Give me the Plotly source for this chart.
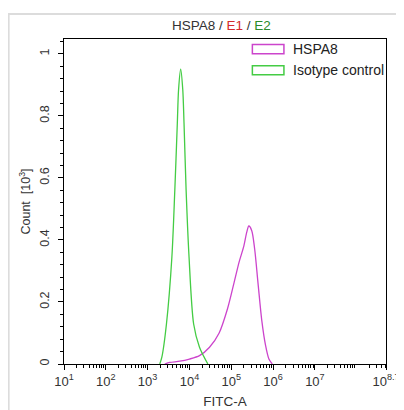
import plotly.graph_objects as go

# ---- data (log10 of FITC-A intensity, count in 10^3) ----
iso_log = [3.29, 3.34, 3.45, 3.58, 3.65, 3.71, 3.74, 3.79, 3.84, 3.87, 3.92, 3.99, 4.10, 4.24, 4.44]
iso_count = [0.0, 0.022, 0.129, 0.345, 0.561, 0.777, 0.885, 0.951, 0.885, 0.777, 0.561, 0.345, 0.129, 0.054, 0.0]

hspa_log = [3.41, 3.53, 3.77, 4.00, 4.24, 4.48, 4.71, 4.91, 5.07, 5.19, 5.30, 5.37, 5.42,
            5.49, 5.56, 5.64, 5.73, 5.82, 5.90, 5.98]
hspa_count = [0.0, 0.005, 0.009, 0.016, 0.027, 0.054, 0.10, 0.178, 0.264, 0.33, 0.38, 0.425, 0.445,
              0.43, 0.37, 0.26, 0.14, 0.06, 0.016, 0.0]

x_tick_exp = [1, 2, 3, 4, 5, 6, 7, 8.7]
x_tick_text = ["10<sup>1</sup>", "10<sup>2</sup>", "10<sup>3</sup>", "10<sup>4</sup>",
               "10<sup>5</sup>", "10<sup>6</sup>", "10<sup>7</sup>", "10<sup>8.7</sup>"]
y_tick_vals = [0, 0.2, 0.4, 0.6, 0.8, 1]
y_tick_text = ["0", "0.2", "0.4", "0.6", "0.8", "1"]

series_names = ["HSPA8", "Isotype control"]
MAGENTA = "#cc44cc"
GREEN = "#44cc44"
FONT = "Liberation Sans, Arial, sans-serif"

fig = go.Figure()
fig.add_trace(go.Scatter(x=[10 ** e for e in hspa_log], y=hspa_count, mode="lines",
                         line=dict(color=MAGENTA, width=1.3, shape="spline", smoothing=0.8),
                         name=series_names[0], showlegend=False))
fig.add_trace(go.Scatter(x=[10 ** e for e in iso_log], y=iso_count, mode="lines",
                         line=dict(color=GREEN, width=1.3, shape="spline", smoothing=0.8),
                         name=series_names[1], showlegend=False))

minor_x = [k * 10 ** d for d in range(1, 9) for k in range(2, 10) if k * 10 ** d < 10 ** 8.7]

fig.update_xaxes(
    type="log", range=[1, 8.7],
    tickmode="array", tickvals=[10 ** e for e in x_tick_exp], ticktext=x_tick_text,
    ticks="outside", ticklen=5, tickwidth=1, tickcolor="black",
    showline=True, linecolor="black", linewidth=1, mirror=True,
    showgrid=False, zeroline=False, ticklabeloverflow="allow",
    tickfont=dict(family=FONT, size=13, color="#333333"),
    minor=dict(tickmode="array", tickvals=minor_x, ticks="outside", ticklen=3,
               tickcolor="black", tickwidth=1, showgrid=False),
    title=dict(text="FITC-A", font=dict(family=FONT, size=13.5, color="#333333"), standoff=8),
)
fig.update_yaxes(
    range=[0, 1.048],
    tickmode="array", tickvals=y_tick_vals, ticktext=y_tick_text, tickangle=-90,
    ticks="outside", ticklen=5, tickwidth=1, tickcolor="black", ticklabelstandoff=4,
    showline=True, linecolor="black", linewidth=1, mirror=True,
    showgrid=False, zeroline=False,
    tickfont=dict(family=FONT, size=12.5, color="#333333"),
    minor=dict(dtick=0.04, ticks="outside", ticklen=3, tickcolor="black", tickwidth=1, showgrid=False),
    title=dict(text="Count  [10<sup>3</sup>]", font=dict(family=FONT, size=12.5, color="#333333"), standoff=4),
)

shapes = [
    # outer light panel border
    dict(type="rect", xref="paper", yref="paper", x0=-0.172, x1=1.4, y0=-0.4, y1=1.077,
         line=dict(color="#dcdcdc", width=2), layer="below"),
    # legend boxes
    dict(type="rect", xref="paper", yref="paper", x0=0.585, x1=0.683, y0=0.955, y1=0.983,
         line=dict(color=MAGENTA, width=1.5)),
    dict(type="rect", xref="paper", yref="paper", x0=0.585, x1=0.683, y0=0.890, y1=0.918,
         line=dict(color=GREEN, width=1.5)),
]
annotations = [
    dict(xref="paper", yref="paper", x=0.705, y=0.969, xanchor="left", yanchor="middle",
         text=series_names[0], showarrow=False, font=dict(family=FONT, size=14, color="#222222")),
    dict(xref="paper", yref="paper", x=0.705, y=0.904, xanchor="left", yanchor="middle",
         text=series_names[1], showarrow=False, font=dict(family=FONT, size=14, color="#222222")),
    dict(xref="paper", yref="paper", x=0.49, y=1.042, xanchor="center", yanchor="middle",
         text="HSPA8 / <span style='color:#d42a2a'>E1</span> / <span style='color:#2a8a2a'>E2</span>",
         showarrow=False, font=dict(family=FONT, size=13.5, color="#333333")),
]

fig.update_layout(
    width=404, height=410,
    margin=dict(l=56, r=16, t=31, b=49),
    paper_bgcolor="white", plot_bgcolor="white",
    shapes=shapes, annotations=annotations, showlegend=False,
)

fig.write_html("out.html", config={"displayModeBar": False})
